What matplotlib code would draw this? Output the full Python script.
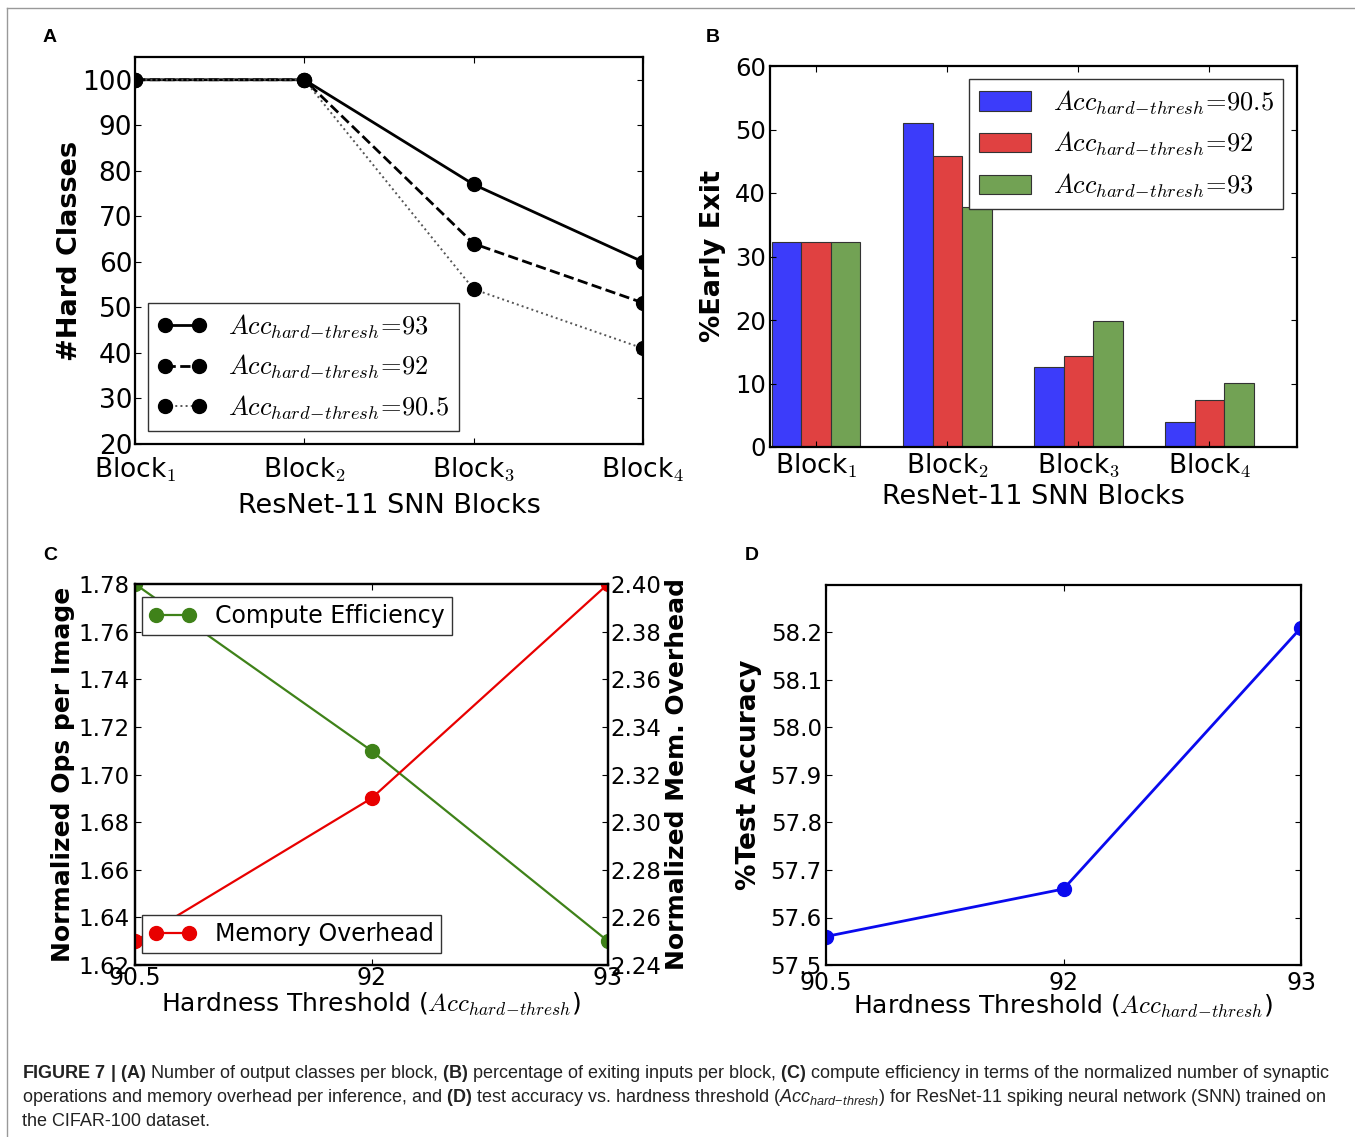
import matplotlib
matplotlib.use("Agg")
import matplotlib.pyplot as plt
from matplotlib.lines import Line2D
import numpy as np

# ------------------------------------------------------
# Data
# ------------------------------------------------------
BLOCKS = ["Block$_1$", "Block$_2$", "Block$_3$", "Block$_4$"]

# (A) number of hard classes per block
HARD_93 = [100, 100, 77, 60]
HARD_92 = [100, 100, 64, 51]
HARD_905 = [100, 100, 54, 41]

# (B) % early exit per block
EXIT_905 = [32.3, 51.0, 12.6, 3.9]
EXIT_92 = [32.3, 45.9, 14.4, 7.4]
EXIT_93 = [32.3, 37.8, 19.8, 10.1]

# (C) / (D) hardness threshold sweep
THRESHOLDS = ["90.5", "92", "93"]
OPS_PER_IMAGE = [1.78, 1.71, 1.63]
MEM_OVERHEAD = [2.25, 2.31, 2.40]
TEST_ACC = [57.56, 57.66, 58.21]

ACC = r"Acc_{hard\!-\!thresh}"

# ------------------------------------------------------
# Style
# ------------------------------------------------------
plt.rcParams["font.family"] = ["DejaVu Sans"]
plt.rcParams["mathtext.fontset"] = "cm"
plt.rcParams["mathtext.rm"] = "Liberation Sans"
plt.rcParams["mathtext.it"] = "Liberation Sans:italic"
plt.rcParams["mathtext.bf"] = "Liberation Sans:bold"
plt.rcParams["xtick.direction"] = "in"
plt.rcParams["ytick.direction"] = "in"
plt.rcParams["xtick.top"] = True
plt.rcParams["ytick.right"] = True
plt.rcParams["axes.linewidth"] = 1.6
plt.rcParams["xtick.major.size"] = 4
plt.rcParams["ytick.major.size"] = 4
plt.rcParams["xtick.major.pad"] = 6
plt.rcParams["ytick.major.pad"] = 4

W, H = 1355, 1137
fig = plt.figure(figsize=(W / 100, H / 100), dpi=100)


def axes_px(left, top, right, bottom):
    return fig.add_axes([left / W, 1 - bottom / H, (right - left) / W, (bottom - top) / H])


def frame(leg):
    leg.get_frame().set_linewidth(1.0)
    leg.get_frame().set_edgecolor("#333333")


# outer frame of the figure page
fig.add_artist(Line2D([7 / W, 7 / W], [0, 1 - 8 / H], color="#999999", lw=1))
fig.add_artist(Line2D([7 / W, 1], [1 - 8 / H, 1 - 8 / H], color="#999999", lw=1))

# ------------------------------------------------------
# (A) hard classes
# ------------------------------------------------------
axA = axes_px(135, 57, 643, 444)
x = np.arange(len(BLOCKS))
axA.plot(x, HARD_93, "k-", marker="o", ms=10, lw=2, label=f"${ACC}\\!=\\!93$")
axA.plot(x, HARD_92, "k--", marker="o", ms=10, lw=2, label=f"${ACC}\\!=\\!92$")
axA.plot(x, HARD_905, ":", marker="o", ms=10, lw=1.4, color="#555555", mfc="k", mec="k",
         label=f"${ACC}\\!=\\!90.5$")
axA.set_xlim(0, 3)
axA.set_ylim(20, 105)
axA.set_xticks(x)
axA.set_xticklabels(BLOCKS, fontsize=19)
axA.set_yticks(np.arange(20, 101, 10))
axA.tick_params(axis="y", labelsize=19, pad=2)
axA.tick_params(axis="x", pad=8)
axA.set_xlabel("ResNet-11 SNN Blocks", fontsize=19.5, labelpad=7)
axA.set_ylabel("#Hard Classes", fontsize=19.5, fontweight="bold", labelpad=-1)
legA = axA.legend(loc="lower left", numpoints=2, fontsize=19, handlelength=1.9,
                  handletextpad=0.8, fancybox=False, framealpha=1, borderaxespad=0,
                  bbox_to_anchor=(13 / 508, 13 / 387), borderpad=0.35, labelspacing=0.45)
frame(legA)

# ------------------------------------------------------
# (B) early exit bars
# ------------------------------------------------------
axB = axes_px(770, 66, 1297, 447)
w = 0.225
xb = np.arange(len(BLOCKS))
axB.bar(xb, EXIT_905, w, align="edge", color="#3c3cfa", edgecolor="#333333", lw=0.8,
        label=f"${ACC}\\!=\\!90.5$")
axB.bar(xb + w, EXIT_92, w, align="edge", color="#e04141", edgecolor="#333333", lw=0.8,
        label=f"${ACC}\\!=\\!92$")
axB.bar(xb + 2 * w, EXIT_93, w, align="edge", color="#72a254", edgecolor="#333333", lw=0.8,
        label=f"${ACC}\\!=\\!93$")
axB.set_xlim(-0.015, 4.005)
axB.set_ylim(0, 60)
axB.set_xticks(xb + 1.5 * w)
axB.set_xticklabels(BLOCKS, fontsize=19)
axB.tick_params(axis="y", labelsize=17.5, pad=3)
axB.tick_params(axis="x", pad=3)
axB.set_xlabel("ResNet-11 SNN Blocks", fontsize=19.5, labelpad=3)
axB.set_ylabel("%Early Exit", fontsize=19.5, fontweight="bold", labelpad=6)
legB = axB.legend(loc="upper right", fontsize=19, handlelength=2.0, handleheight=0.75,
                  handletextpad=0.8, fancybox=False, framealpha=1, borderaxespad=0,
                  bbox_to_anchor=(513 / 527, 368 / 381), borderpad=0.35, labelspacing=0.5)
frame(legB)

# ------------------------------------------------------
# (C) compute efficiency vs memory overhead
# ------------------------------------------------------
axC = axes_px(135, 584, 608, 965)
xc = np.arange(len(THRESHOLDS))
axC.plot(xc, OPS_PER_IMAGE, "-", color="#3f8219", marker="o", ms=10, lw=1.6,
         label="Compute Efficiency")
axC.set_xlim(0, 2)
axC.set_ylim(1.62, 1.78)
axC.set_yticks(np.arange(1.62, 1.781, 0.02))
axC.set_yticklabels([f"{v:.2f}" for v in np.arange(1.62, 1.781, 0.02)])
axC.set_xticks(xc)
axC.set_xticklabels(THRESHOLDS, fontsize=17)
axC.tick_params(axis="y", labelsize=16.5, right=False)
axC.tick_params(axis="x", pad=1)
axC.set_xlabel(f"Hardness Threshold (${ACC}$)", fontsize=18, labelpad=0)
axC.set_ylabel("Normalized Ops per Image", fontsize=18, fontweight="bold", labelpad=2)
legC1 = axC.legend(loc="upper left", numpoints=2, fontsize=17, handlelength=2.0,
                   fancybox=False, framealpha=1, borderaxespad=0,
                   bbox_to_anchor=(7 / 473, 368 / 381), borderpad=0.3)
frame(legC1)

axC2 = axC.twinx()
axC2.plot(xc, MEM_OVERHEAD, "-", color="#e80000", marker="o", ms=10, lw=1.6,
          label="Memory Overhead")
axC2.set_ylim(2.24, 2.40)
axC2.set_yticks(np.arange(2.24, 2.401, 0.02))
axC2.set_yticklabels([f"{v:.2f}" for v in np.arange(2.24, 2.401, 0.02)])
axC2.tick_params(axis="y", labelsize=16.5, direction="in", pad=2)
axC2.set_ylabel("Normalized Mem. Overhead", fontsize=18, fontweight="bold", labelpad=2)
legC2 = axC2.legend(loc="lower left", numpoints=2, fontsize=17, handlelength=2.0,
                    fancybox=False, framealpha=1, borderaxespad=0,
                    bbox_to_anchor=(7 / 473, 12 / 381), borderpad=0.3)
frame(legC2)

# ------------------------------------------------------
# (D) test accuracy
# ------------------------------------------------------
axD = axes_px(826, 585, 1301, 965)
axD.plot(xc, TEST_ACC, "-", color="#0a0aee", marker="o", ms=10, lw=2)
axD.set_xlim(0, 2)
axD.set_ylim(57.5, 58.3)
axD.set_yticks(np.arange(57.5, 58.21, 0.1))
axD.set_yticklabels([f"{v:.1f}" for v in np.arange(57.5, 58.21, 0.1)])
axD.set_xticks(xc)
axD.set_xticklabels(THRESHOLDS, fontsize=17)
axD.tick_params(axis="y", labelsize=16.5, pad=3)
axD.tick_params(axis="x", pad=4)
axD.set_xlabel(f"Hardness Threshold (${ACC}$)", fontsize=18, labelpad=-1)
axD.set_ylabel("%Test Accuracy", fontsize=19, fontweight="bold", labelpad=6)

# ------------------------------------------------------
# panel letters
# ------------------------------------------------------
for lx, ly, letter in [(50, 38, "A"), (713, 38, "B"), (50, 555, "C"), (752, 555, "D")]:
    fig.text(lx / W, 1 - ly / H, letter, fontsize=14, fontweight="bold",
             family=["Liberation Sans"], va="center", ha="center")

# ------------------------------------------------------
# caption
# ------------------------------------------------------
CAPTION = [
    r"$\mathbf{FIGURE\ 7\ |\ (A)}$ Number of output classes per block, $\mathbf{(B)}$ percentage of "
    r"exiting inputs per block, $\mathbf{(C)}$ compute efficiency in terms of the normalized number of synaptic",
    r"operations and memory overhead per inference, and $\mathbf{(D)}$ test accuracy vs. hardness threshold "
    r"($Acc_{hard\!-\!thresh}$) for ResNet-11 spiking neural network (SNN) trained on",
    r"the CIFAR-100 dataset.",
]
for i, line in enumerate(CAPTION):
    fig.text(22 / W, 1 - (1073 + 24 * i) / H, line, fontsize=13, va="center", ha="left",
             family=["Liberation Sans"], math_fontfamily="custom", color="#222222")

fig.savefig("out.png", dpi=100)
